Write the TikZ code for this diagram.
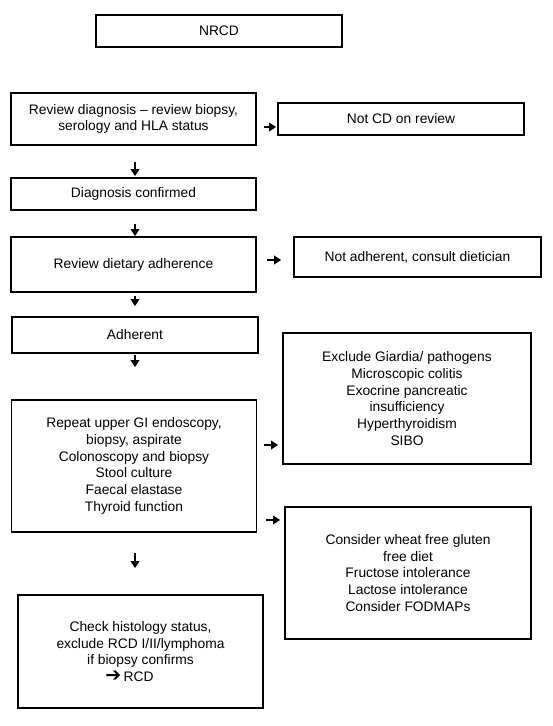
\documentclass[tikz,border=0pt]{standalone}
\usepackage{fontspec}
\setmainfont{Liberation Sans}
\newfontfamily\symfont{DejaVu Sans}
\usetikzlibrary{arrows.meta}
\begin{document}
\begin{tikzpicture}[x=1pt, y=-1pt, every node/.style={font=\fontsize{13.8}{16.7}\selectfont},
  box/.style={draw, line width=1.7pt, align=center, inner sep=0pt},
  arr/.style={line width=1.8pt, -{Triangle[length=7pt,width=8.5pt]}}]
  \useasboundingbox (0,0) rectangle (552,726);
  \node[box,minimum width=246pt,minimum height=32pt] (nrcd) at (219,31) {NRCD};
  \node[box,minimum width=245pt,minimum height=52pt] (rev) at (133.5,119) {Review diagnosis – review biopsy,\\ serology and HLA status};
  \node[box,minimum width=246pt,minimum height=32pt] (notcd) at (401,119) {Not CD on review};
  \node[box,minimum width=245pt,minimum height=32pt] (conf) at (133.5,194) {Diagnosis confirmed};
  \node[box,minimum width=245pt,minimum height=55pt] (diet) at (133.5,264.5) {Review dietary adherence};
  \node[box,minimum width=247pt,minimum height=40pt] (notadh) at (417.5,257) {Not adherent, consult dietician};
  \node[box,minimum width=246pt,minimum height=36pt] (adh) at (135,335) {Adherent};
  \node[box,minimum width=245pt,minimum height=132pt] (rep) at (134,466) {Repeat upper GI endoscopy,\\ biopsy, aspirate\\ Colonoscopy and biopsy\\ Stool culture\\ Faecal elastase\\ Thyroid function};
  \node[box,minimum width=248pt,minimum height=131pt] (excl) at (407,398.5) {Exclude Giardia/ pathogens\\ Microscopic colitis\\ Exocrine pancreatic\\ insufficiency\\ Hyperthyroidism\\ SIBO};
  \node[box,minimum width=246pt,minimum height=132pt] (wheat) at (408,573) {Consider wheat free gluten\\ free diet\\ Fructose intolerance\\ Lactose intolerance\\ Consider FODMAPs};
  \node[box,minimum width=245pt,minimum height=113pt] (hist) at (140.5,651.5) {Check histology status,\\ exclude RCD I/II/lymphoma\\ if biopsy confirms\\ {\symfont\fontsize{19}{16.7}\selectfont ➔}\,RCD\hspace*{22pt}};
  % side branches
  \draw[arr,shorten <=7pt,shorten >=1pt] ([yshift=-8pt]rev.east) -- ([yshift=-8pt]rev.east -| notcd.west);
  \draw[arr,shorten <=10pt,shorten >=12pt] ([yshift=4.5pt]diet.east) -- ([yshift=4.5pt]diet.east -| notadh.west);
  \draw[arr,shorten <=7pt,shorten >=4pt] ([yshift=21pt]rep.east) -- ([yshift=21pt]rep.east -| excl.west);
  \draw[arr,shorten <=9pt,shorten >=4pt] ([yshift=-54pt]rep.east) -- ([yshift=-54pt]rep.east -| wheat.west);
  % main line
  \draw[arr,shorten <=16pt,shorten >=1pt] ([xshift=1.5pt]rev.south) -- ([xshift=1.5pt]conf.north);
  \draw[arr,shorten <=13pt] ([xshift=1.5pt]conf.south) -- ([xshift=1.5pt]diet.north);
  \draw[arr,shorten <=3pt,shorten >=10pt] ([xshift=1.5pt]diet.south) -- ([xshift=1.5pt]diet.south |- adh.north);
  \draw[arr,shorten <=1pt,shorten >=32pt] (adh.south) -- (adh.south |- rep.north);
  \draw[arr,shorten <=20pt,shorten >=26pt] ([xshift=1pt]rep.south) -- ([xshift=1pt]rep.south |- hist.north);
\end{tikzpicture}
\end{document}
